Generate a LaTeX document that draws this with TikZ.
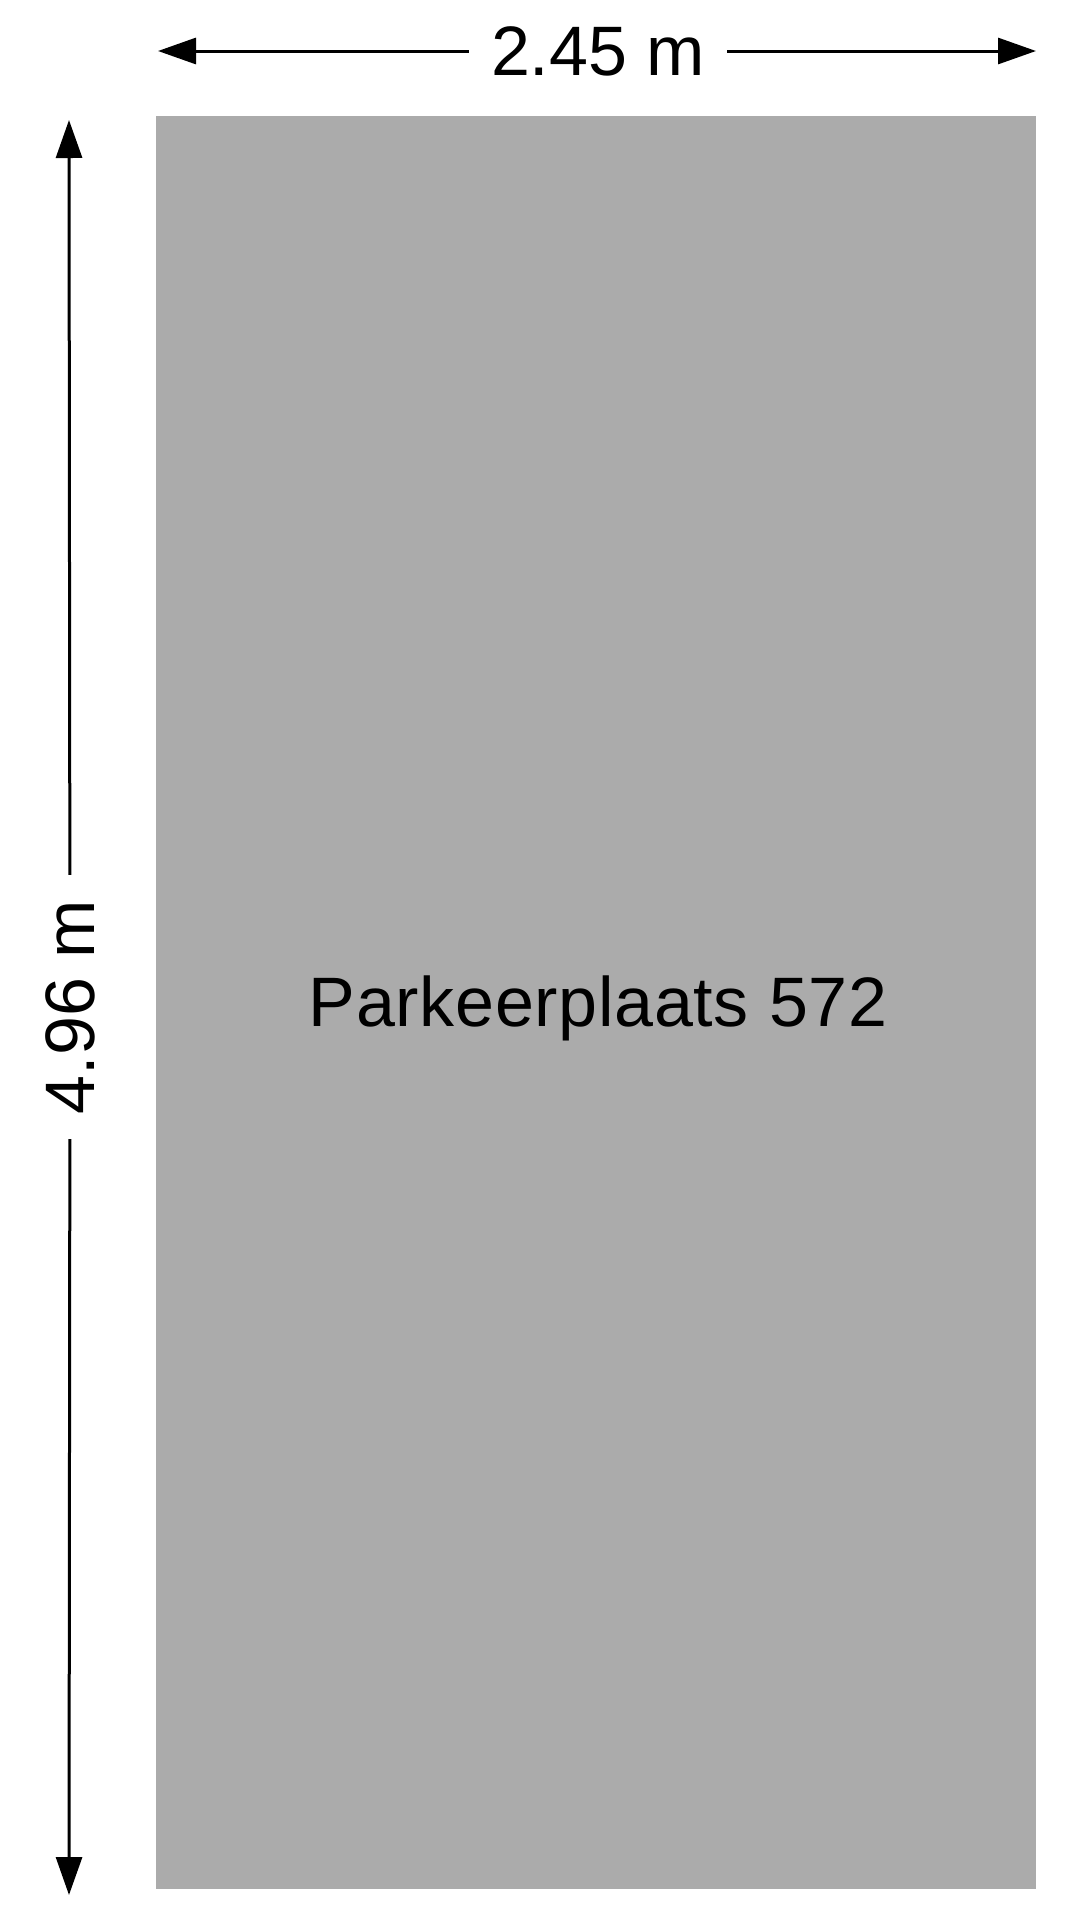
\documentclass[tikz,border=0pt]{standalone}
\usepackage{fontspec}
\setmainfont{Liberation Sans}
\newfontfamily\spacedsans[LetterSpace=1.0]{Liberation Sans}
\usetikzlibrary{arrows.meta}
\begin{document}
\begin{tikzpicture}[x=1pt,y=-1pt,
  dimline/.style={line width=3pt,-{Triangle[length=38pt,width=26pt]}},
  dimlabel/.style={inner xsep=22pt,inner ysep=0pt,font=\fontsize{70}{84}\selectfont},
  slot/.style={fill=slotgray,draw=none}]
\definecolor{slotgray}{HTML}{ABABAB}
\useasboundingbox (0,0) rectangle (1080,1920);
\fill[white] (0,0) rectangle (1080,1920);
% parking slot
\path[slot] (156,116) rectangle (1036,1889);
\node[font=\spacedsans\fontsize{70}{84}\selectfont,anchor=base,inner sep=0pt] (slotlab) at (598,1026) {Parkeerplaats 572};
% width dimension
\coordinate (wL) at (158,51);
\coordinate (wR) at (1036,51);
\node[dimlabel] (wlab) at (598,51) {2.45 m};
\draw[dimline] (wlab) -- (wL);
\draw[dimline] (wlab) -- (wR);
% height dimension
\coordinate (hT) at (69,120);
\coordinate (hB) at (69,1895);
\node[dimlabel,inner xsep=25pt,rotate=90] (hlab) at (70,1007) {4.96 m};
\draw[dimline] (hlab) -- (hT);
\draw[dimline] (hlab) -- (hB);
\end{tikzpicture}
\end{document}
